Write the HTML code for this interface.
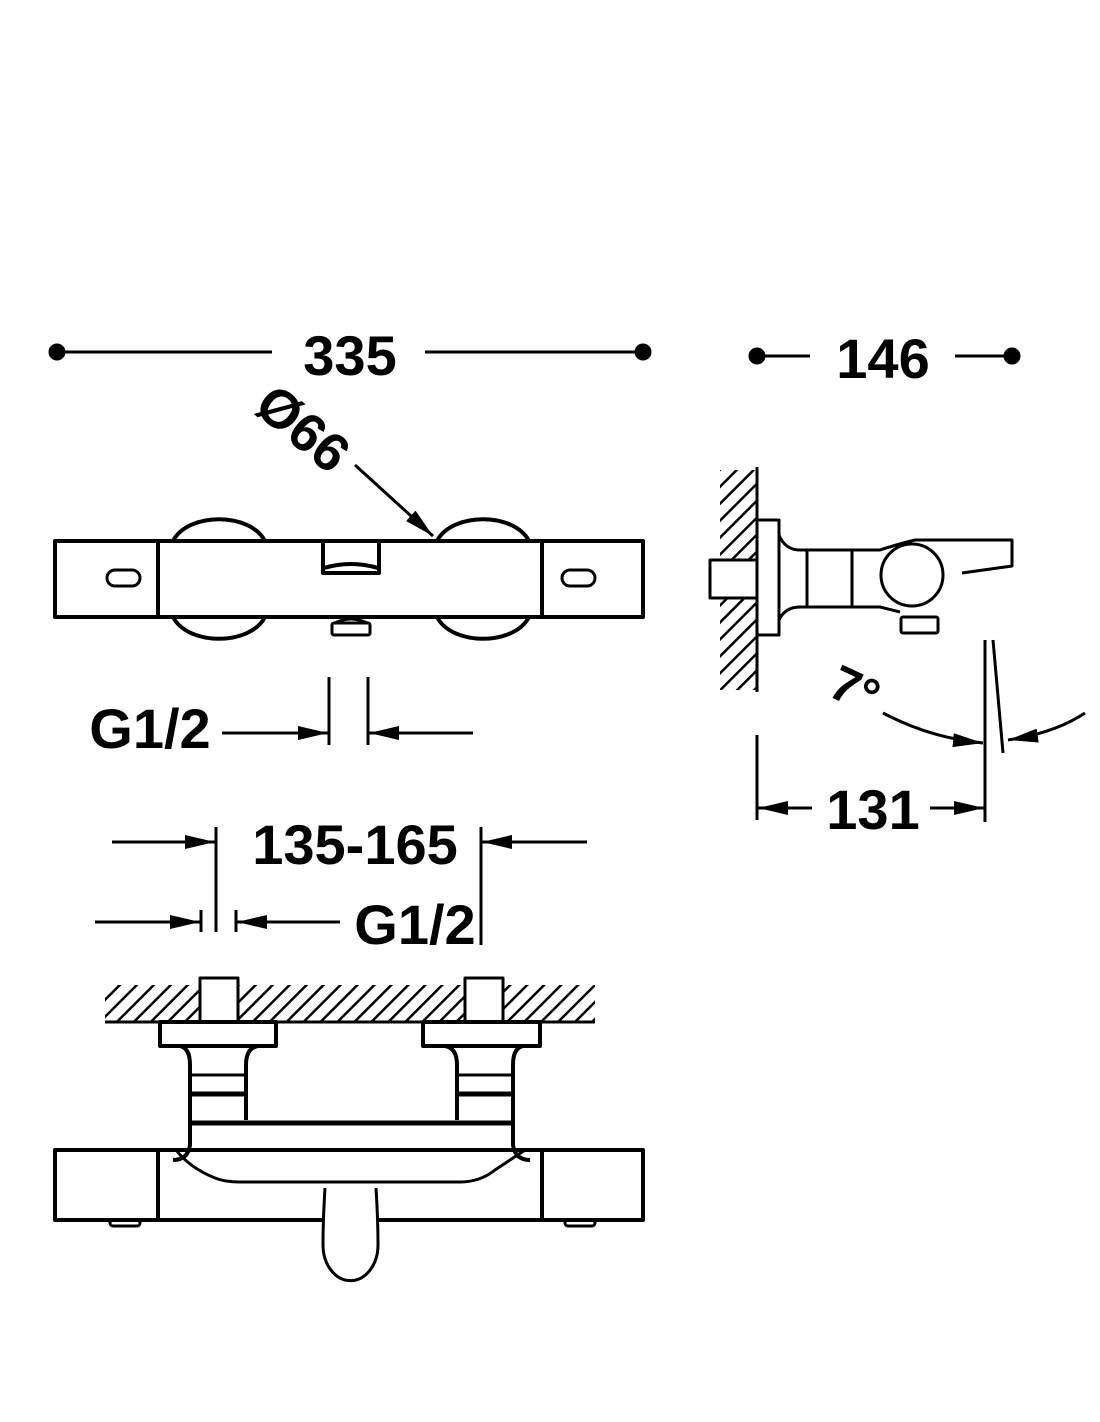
<!DOCTYPE html>
<html><head><style>body{margin:0;background:#fff}svg{display:block}text{font-family:"Liberation Sans",sans-serif;font-weight:bold;fill:#000}</style></head>
<body>
<svg width="1100" height="1422" viewBox="0 0 1100 1422" xmlns="http://www.w3.org/2000/svg">
<defs>
<pattern id="h" width="12" height="12" patternUnits="userSpaceOnUse" patternTransform="rotate(45)">
<rect x="0" y="0" width="2.5" height="12" fill="#000"/></pattern>
<marker id="A" viewBox="0 0 30 14" refX="30" refY="7" markerWidth="30" markerHeight="14" orient="auto" markerUnits="userSpaceOnUse"><path d="M0,0 L30,7 L0,14z" fill="#000"/></marker>
</defs>
<g stroke="#000" stroke-width="3" fill="none" stroke-linejoin="round">
<!-- 335 -->
<line x1="57" y1="352" x2="272" y2="352"/><line x1="425" y1="352" x2="643" y2="352"/>
<circle cx="57" cy="352" r="7" fill="#000"/><circle cx="643" cy="352" r="7" fill="#000"/>
<!-- 146 -->
<line x1="757" y1="356" x2="810" y2="356"/><line x1="955" y1="356" x2="1012" y2="356"/>
<circle cx="757" cy="356" r="7" fill="#000"/><circle cx="1012" cy="356" r="7" fill="#000"/>
<!-- top view -->
<path d="M173,541 C188,512 250,512 265,541" stroke-width="4"/>
<path d="M437,541 C452,512 514,512 529,541" stroke-width="4"/>
<path d="M173,617 C188,646 250,646 265,617" stroke-width="4"/>
<path d="M437,617 C452,646 514,646 529,617" stroke-width="4"/>
<rect x="55" y="541" width="588" height="76" stroke-width="4"/>
<line x1="158" y1="541" x2="158" y2="617" stroke-width="4"/>
<line x1="542" y1="541" x2="542" y2="617" stroke-width="4"/>
<path d="M323,541 V573 H379 V541" stroke-width="4"/>
<path d="M324,568 Q351,560 378,568" stroke-width="4"/>
<rect x="107" y="570" width="33" height="16" rx="8"/>
<rect x="562" y="570" width="33" height="16" rx="8"/>
<path d="M335,623 Q351,615 367,623"/>
<rect x="332" y="623" width="38" height="12" rx="2"/>
<line x1="355" y1="465" x2="433" y2="536" marker-end="url(#A)"/>
<!-- G1/2 top -->
<line x1="222" y1="733" x2="328" y2="733" marker-end="url(#A)"/>
<line x1="473" y1="733" x2="369" y2="733" marker-end="url(#A)"/>
<line x1="329" y1="677" x2="329" y2="745"/><line x1="368" y1="677" x2="368" y2="745"/>
<!-- 135-165 -->
<line x1="112" y1="842" x2="215" y2="842" marker-end="url(#A)"/>
<line x1="587" y1="842" x2="482" y2="842" marker-end="url(#A)"/>
<line x1="216" y1="827" x2="216" y2="932"/><line x1="481" y1="827" x2="481" y2="945"/>
<line x1="95" y1="922" x2="200" y2="922" marker-end="url(#A)"/>
<line x1="340" y1="922" x2="237" y2="922" marker-end="url(#A)"/>
<line x1="201" y1="910" x2="201" y2="932"/><line x1="236" y1="910" x2="236" y2="932"/>
<!-- bottom view -->
<rect x="105" y="985" width="490" height="37" fill="url(#h)" stroke="none"/>
<line x1="105" y1="1022" x2="595" y2="1022"/>
<rect x="200" y="978" width="38" height="44" fill="#fff"/>
<rect x="465" y="978" width="38" height="44" fill="#fff"/>
<rect x="160" y="1022" width="116" height="24" fill="#fff" stroke-width="4"/>
<rect x="423" y="1022" width="117" height="24" fill="#fff" stroke-width="4"/>
<path d="M180,1046 Q190,1048 190,1065 V1145 Q188,1160 173,1160" stroke-width="4"/>
<path d="M258,1046 Q246,1048 246,1065 V1120" stroke-width="4"/>
<path d="M523,1046 Q513,1048 513,1065 V1145 Q515,1160 530,1160" stroke-width="4"/>
<path d="M445,1046 Q457,1048 457,1065 V1120" stroke-width="4"/>
<line x1="190" y1="1094" x2="246" y2="1094" stroke-width="5"/>
<line x1="457" y1="1094" x2="513" y2="1094" stroke-width="5"/>
<line x1="190" y1="1123" x2="513" y2="1123" stroke-width="5"/>
<line x1="190" y1="1075" x2="246" y2="1075"/><line x1="457" y1="1075" x2="513" y2="1075"/>
<path d="M55,1150 H643 V1220 H55 Z" stroke-width="4"/>
<line x1="158" y1="1150" x2="158" y2="1220" stroke-width="4"/>
<line x1="542" y1="1150" x2="542" y2="1220" stroke-width="4"/>
<path d="M176,1150 Q190,1168 215,1178 Q225,1182 240,1182 H460 Q480,1182 495,1170 Q510,1160 525,1150"/>
<path d="M325,1188 Q323,1220 323,1245 A27,35 0 0 0 378,1245 Q378,1220 376,1188" fill="#fff"/>
<rect x="110" y="1220" width="30" height="6" rx="3"/>
<rect x="565" y="1220" width="30" height="6" rx="3"/>
<!-- side view -->
<rect x="720" y="470" width="37" height="220" fill="url(#h)" stroke="none"/>
<line x1="757" y1="467" x2="757" y2="692"/>
<rect x="710" y="560" width="47" height="38" fill="#fff"/>
<rect x="757" y="520" width="22" height="115" fill="#fff"/>
<path d="M779,535 Q785,550 800,550 H880 Q895,545 915,540 H1012 V566 L962,573"/>
<path d="M779,620 Q785,607 800,607 H880 L900,612"/>
<line x1="807" y1="550" x2="807" y2="607"/><line x1="852" y1="550" x2="852" y2="607"/>
<circle cx="912" cy="575" r="31" fill="#fff"/>
<rect x="901" y="617" width="37" height="16" rx="2"/>
<line x1="985" y1="640" x2="985" y2="822"/>
<line x1="993" y1="640" x2="1003" y2="753"/>
<path d="M883,713 Q930,738 983,743" marker-end="url(#A)"/>
<path d="M1085,713 Q1055,733 1008,740" marker-end="url(#A)"/>
<line x1="757" y1="735" x2="757" y2="820"/>
<line x1="812" y1="808" x2="758" y2="808" marker-end="url(#A)"/>
<line x1="930" y1="808" x2="984" y2="808" marker-end="url(#A)"/>
</g>
<text x="350" y="375" font-size="56" text-anchor="middle">335</text>
<text x="883" y="378" font-size="56" text-anchor="middle">146</text>
<text x="0" y="0" font-size="54" transform="translate(252,410) rotate(40)">Ø66</text>
<text x="150" y="748" font-size="56" text-anchor="middle">G1/2</text>
<text x="355" y="864" font-size="56" text-anchor="middle">135-165</text>
<text x="415" y="944" font-size="56" text-anchor="middle">G1/2</text>
<text x="873" y="829" font-size="56" text-anchor="middle">131</text>
<text x="0" y="0" font-size="50" transform="translate(826,695) rotate(25)">7°</text>
</svg>
</body></html>
